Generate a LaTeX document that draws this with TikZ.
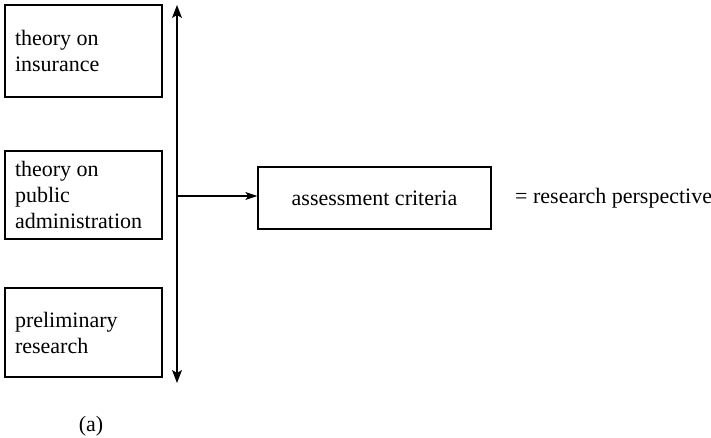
\documentclass[tikz,border=0pt]{standalone}
\usepackage{fontspec}
\setmainfont{Liberation Serif}
\usetikzlibrary{arrows.meta}
\begin{document}
\begin{tikzpicture}[x=1pt,y=-1pt,
  every node/.style={font=\fontsize{22}{26}\selectfont},
  sourcebox/.style={draw, line width=1.4pt, minimum width=157pt, inner xsep=10pt,
    text width=137pt, align=flush left},
  critbox/.style={draw, line width=1.4pt, minimum width=233pt, minimum height=62pt},
  tip/.style={Stealth[length=13pt,width=10pt,inset=3pt]},
  link/.style={line width=1.2pt, -{Stealth[length=12pt,width=8pt,inset=3pt]}}]
\useasboundingbox (0,0) rectangle (711,438);
% source boxes on the left
\node[sourcebox, minimum height=92pt] (ins) at (83.5,51) {theory on\\insurance};
\node[sourcebox, minimum height=88pt] (pub) at (83.5,195) {theory on\\public\\administration};
\node[sourcebox, minimum height=89pt] (pre) at (83.5,332.5) {preliminary\\research};
% collecting line with arrows at both ends
\coordinate (top) at (177,5);
\coordinate (bot) at (177,383);
\coordinate (join) at (177,196);
\draw[line width=1.2pt, {Stealth[length=13pt,width=10pt,inset=3pt]}-{Stealth[length=13pt,width=10pt,inset=3pt]}] (top) -- (bot);
% result box
\node[critbox] (crit) at (374.5,198) {assessment criteria};
\draw[link] (join) -- (join -| crit.west);
\node[anchor=base west, inner sep=0pt] (persp) at (515,204) {= research perspective};
\node[anchor=base, inner sep=0pt] (cap) at (91,431) {(a)};
\end{tikzpicture}
\end{document}
